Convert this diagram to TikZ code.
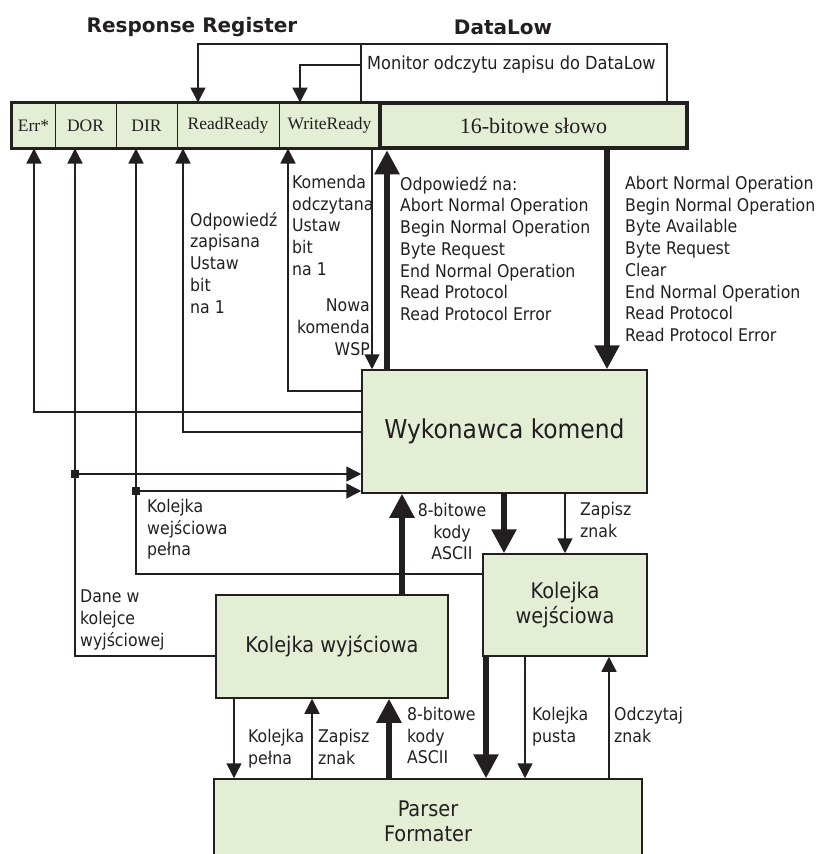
\documentclass[tikz,border=0pt]{standalone}
\usepackage{fontspec}
\usetikzlibrary{arrows.meta}
\newfontfamily\dvc{DejaVu Sans Condensed}
\newfontfamily\dvs{DejaVu Sans}
\newfontfamily\tnr{Liberation Serif}
\definecolor{lc}{RGB}{35,31,32}
\definecolor{gf}{RGB}{228,238,213}
\tikzset{
  blk/.style={draw=lc, fill=gf, line width=1.5pt, inner sep=0pt, font=\dvc\fontsize{21.5}{25}\selectfont, text=lc, align=center},
  cell/.style={draw=lc, fill=gf, line width=1pt, inner sep=0pt, minimum height=45pt, font=\tnr\fontsize{17.5}{20}\selectfont, text=lc},
  wire/.style={draw=lc, line width=1.5pt},
  arr/.style={draw=lc, line width=1.5pt, -{Triangle[length=15pt,width=15pt]}},
  bigarr/.style={draw=lc, line width=5.5pt, -{Triangle[length=24pt,width=24pt]}},
  lbl/.style={font=\dvc\fontsize{17.5}{21.7}\selectfont, align=left, inner sep=0pt, anchor=north west, text=lc},
  ttl/.style={font=\dvs\bfseries\fontsize{20}{24}\selectfont, inner sep=0pt, text=lc},
  sq/.style={fill=lc, minimum size=8pt, inner sep=0pt},
}
\begin{document}
\begin{tikzpicture}[x=1pt,y=-1pt]
\useasboundingbox (0,0) rectangle (819,854);
% titles
\node[ttl] (t1) at (192,27) {Response Register};
\node[ttl] (t2) at (503,27) {DataLow};
% register cells
\node[cell, minimum width=43pt] (err) at (33.5,125.5) {Err*};
\node[cell, minimum width=61pt] (dor) at (85.5,125.5) {DOR};
\node[cell, minimum width=61pt] (dir) at (146.5,125.5) {DIR};
\node[cell, minimum width=102pt] (rr) at (228,125.5) {ReadReady};
\node[cell, minimum width=101pt] (wr) at (329.5,125.5) {WriteReady};
\draw[lc, line width=3pt] (err.north west) rectangle (wr.south east);
\node[cell, minimum width=307pt, line width=4.5pt, font=\tnr\fontsize{22}{26}\selectfont] (dl) at (533.5,125.5) {16-bitowe słowo};
% main blocks
\node[blk, minimum width=285pt, minimum height=123pt, font=\dvc\fontsize{26}{30}\selectfont] (wyk) at (504.5,431.5) {Wykonawca komend};
\node[blk, minimum width=164pt, minimum height=102pt] (kwe) at (565,605) {Kolejka\\wejściowa};
\node[blk, minimum width=232pt, minimum height=103pt] (kwy) at (332,646.5) {Kolejka wyjściowa};
\node[blk, minimum width=428pt, minimum height=84pt] (par) at (428,821) {Parser\\Formater};
% monitor
\coordinate (m1) at (667,44);
\coordinate (m2) at (198,44);
\coordinate (m3) at (361,44);
\coordinate (m4) at (361,65);
\coordinate (m5) at (300,65);
\draw[arr] (dl.north -| m1) -- (m1) -- (m2) -- (m2 |- rr.north);
\draw[wire] (wr.north -| m3) -- (m3);
\draw[arr] (m4) -- (m5) -- (m5 |- wr.north);
\node[lbl, anchor=west, font=\dvc\fontsize{18}{22}\selectfont] (mon) at (367,65) {Monitor odczytu zapisu do DataLow};
% flags into register
\coordinate (xe) at (34,412);
\coordinate (xr) at (183,432);
\coordinate (xw) at (288,391);
\coordinate (xd) at (75,656);
\coordinate (xi) at (136,574);
\draw[arr] (wyk.west |- xe) -- (xe) -- (xe |- err.south);
\draw[arr] (wyk.west |- xr) -- (xr) -- (xr |- rr.south);
\draw[arr] (wyk.west |- xw) -- (xw) -- (xw |- wr.south);
\draw[arr] (kwy.west |- xd) -- (xd) -- (xd |- dor.south);
\draw[arr] (kwe.west |- xi) -- (xi) -- (xi |- dir.south);
\coordinate (j1) at (75,474);
\coordinate (j2) at (136,491);
\draw[arr] (j1) -- (wyk.west |- j1);
\draw[arr] (j2) -- (wyk.west |- j2);
\node[sq] (s1) at (j1) {};
\node[sq] (s2) at (j2) {};
% columns
\coordinate (cn) at (372,0);
\coordinate (c1) at (387,0);
\coordinate (c2) at (607,0);
\coordinate (c3) at (504,0);
\coordinate (c4) at (565,0);
\coordinate (c5) at (402,0);
\coordinate (c6) at (234,0);
\coordinate (c7) at (312,0);
\coordinate (c8) at (389,0);
\coordinate (c9) at (486,0);
\coordinate (c10) at (525,0);
\coordinate (c11) at (609,0);
\draw[arr] (wr.south -| cn) -- (wyk.north -| cn);
\draw[arr] (wyk.south -| c4) -- (kwe.north -| c4);
\draw[arr] (kwy.south -| c6) -- (par.north -| c6);
\draw[arr] (par.north -| c7) -- (kwy.south -| c7);
\draw[arr] (kwe.south -| c10) -- (par.north -| c10);
\draw[arr] (par.north -| c11) -- (kwe.south -| c11);
\draw[bigarr] (wyk.north -| c1) -- (dl.south -| c1);
\draw[bigarr] (dl.south -| c2) -- (wyk.north -| c2);
\draw[bigarr] (wyk.south -| c3) -- (kwe.north -| c3);
\draw[bigarr] (kwy.north -| c5) -- (wyk.south -| c5);
\draw[bigarr] (par.north -| c8) -- (kwy.south -| c8);
\draw[bigarr] (kwe.south -| c9) -- (par.north -| c9);
% labels
\node[lbl] (l1) at (190,212) {Odpowiedź\\zapisana\\Ustaw\\bit\\na 1};
\node[lbl] (l2) at (292,175) {Komenda\\odczytana\\Ustaw\\bit\\na 1};
\node[lbl, anchor=north east, align=right] (l3) at (370,299) {Nowa\\komenda\\WSP};
\node[lbl] (l4) at (400,176) {Odpowiedź na:\\Abort Normal Operation\\Begin Normal Operation\\Byte Request\\End Normal Operation\\Read Protocol\\Read Protocol Error};
\node[lbl] (l5) at (625,176) {Abort Normal Operation\\Begin Normal Operation\\Byte Available\\Byte Request\\Clear\\End Normal Operation\\Read Protocol\\Read Protocol Error};
\node[lbl] (l6) at (147,499) {Kolejka\\wejściowa\\pełna};
\node[lbl] (l7) at (80,590) {Dane w\\kolejce\\wyjściowej};
\node[lbl, anchor=north, align=center] (l8) at (452,503) {8-bitowe\\kody\\ASCII};
\node[lbl] (l9) at (580,502) {Zapisz\\znak};
\node[lbl] (l10) at (248,729) {Kolejka\\pełna};
\node[lbl] (l11) at (318,729) {Zapisz\\znak};
\node[lbl] (l12) at (407,707) {8-bitowe\\kody\\ASCII};
\node[lbl] (l13) at (532,707) {Kolejka\\pusta};
\node[lbl] (l14) at (614,707) {Odczytaj\\znak};
\end{tikzpicture}
\end{document}
